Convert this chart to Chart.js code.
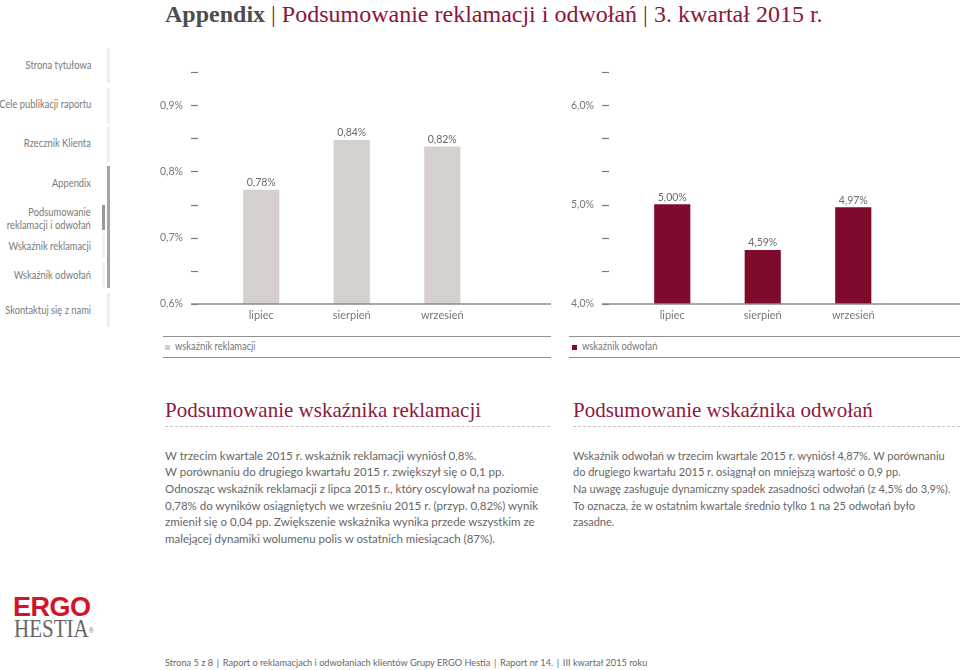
<!DOCTYPE html>
<html lang="pl">
<head>
<meta charset="utf-8">
<script src="https://cdn.jsdelivr.net/npm/chart.js@4/dist/chart.umd.min.js"></script>
<style>
  html,body{margin:0;padding:0;background:#fff;}
  body{width:960px;height:670px;position:relative;overflow:hidden;font-family:Lato,"Open Sans",sans-serif;}
  .abs{position:absolute;}
  .title{left:165px;top:0px;font-family:"Liberation Serif",serif;font-size:24px;line-height:28px;color:#8b1538;white-space:nowrap;}
  .title b{color:#4d4d4d;}
  .nav{right:869px;text-align:right;font-size:11px;line-height:13px;color:#7a7a7a;white-space:nowrap;transform:scaleX(0.85);transform-origin:100% 0;}
  .vbar{width:3px;}
  .legline{height:0;border-top:1.5px solid #8f8f8f;}
  .legsq{width:5px;height:5px;}
  .legtxt{font-size:10.5px;color:#777;line-height:13px;white-space:nowrap;transform:scaleX(0.89);transform-origin:0 0;}
  .head{font-family:"Liberation Serif",serif;font-size:21px;line-height:24px;color:#8b1a3d;white-space:nowrap;}
  .dash{height:0;border-top:1px dashed #c4c4c4;}
  .body{font-size:11.5px;line-height:16.7px;color:#666;white-space:nowrap;}
  .footer{left:165px;top:655px;font-size:10px;line-height:14px;color:#666;white-space:nowrap;transform:scaleX(0.92);transform-origin:0 0;}
  .footer span{margin:0 4px;}
  canvas{position:absolute;}
</style>
</head>
<body>
<div class="abs title"><b>Appendix</b> | Podsumowanie reklamacji i odwołań | 3. kwartał 2015 r.</div>

<!-- navigation -->
<div class="abs nav" style="top:58px">Strona tytułowa</div>
<div class="abs nav" style="top:97px">Cele publikacji raportu</div>
<div class="abs nav" style="top:136px">Rzecznik Klienta</div>
<div class="abs nav" style="top:176px">Appendix</div>
<div class="abs nav" style="top:205px">Podsumowanie<br>reklamacji i odwołań</div>
<div class="abs nav" style="top:239px">Wskaźnik reklamacji</div>
<div class="abs nav" style="top:268px">Wskaźnik odwołań</div>
<div class="abs nav" style="top:303px">Skontaktuj się z nami</div>

<div class="abs vbar" style="left:107px;top:48px;height:35px;background:#eeeeee"></div>
<div class="abs vbar" style="left:107px;top:88px;height:35px;background:#eeeeee"></div>
<div class="abs vbar" style="left:107px;top:127px;height:35px;background:#eeeeee"></div>
<div class="abs vbar" style="left:107px;top:166px;height:122px;background:#a8a4a2"></div>
<div class="abs vbar" style="left:102px;top:205px;height:25px;background:#9a9694"></div>
<div class="abs vbar" style="left:102px;top:233px;height:25px;background:#f1f1f1"></div>
<div class="abs vbar" style="left:102px;top:262px;height:25px;background:#f1f1f1"></div>
<div class="abs vbar" style="left:107px;top:293px;height:34px;background:#eeeeee"></div>

<canvas id="c1" width="411" height="270" style="left:140px;top:60px"></canvas>
<canvas id="c2" width="409" height="270" style="left:551px;top:60px"></canvas>

<!-- legends -->
<div class="abs legline" style="left:163px;top:336px;width:388px"></div>
<div class="abs legline" style="left:163px;top:357px;width:388px"></div>
<div class="abs legsq" style="left:165px;top:344.5px;background:#d5d0cd"></div>
<div class="abs legtxt" style="left:175px;top:340px">wskaźnik reklamacji</div>
<div class="abs legline" style="left:569px;top:336px;width:391px"></div>
<div class="abs legline" style="left:569px;top:357px;width:391px"></div>
<div class="abs legsq" style="left:572px;top:344.5px;background:#7f0a2c"></div>
<div class="abs legtxt" style="left:582px;top:340px">wskaźnik odwołań</div>

<!-- summaries -->
<div class="abs head" style="left:165px;top:398px">Podsumowanie wskaźnika reklamacji</div>
<div class="abs dash" style="left:165px;top:426px;width:385px"></div>
<div class="abs body" style="left:165px;top:447.6px">W trzecim kwartale 2015 r. wskaźnik reklamacji wyniósł 0,8%.<br>W porównaniu do drugiego kwartału 2015 r. zwiększył się o 0,1 pp.<br>Odnosząc wskaźnik reklamacji z lipca 2015 r., który oscylował na poziomie<br>0,78% do wyników osiągniętych we wrześniu 2015 r. (przyp. 0,82%) wynik<br>zmienił się o 0,04 pp. Zwiększenie wskaźnika wynika przede wszystkim ze<br>malejącej dynamiki wolumenu polis w ostatnich miesiącach (87%).</div>

<div class="abs head" style="left:573px;top:398px">Podsumowanie wskaźnika odwołań</div>
<div class="abs dash" style="left:573px;top:426px;width:387px"></div>
<div class="abs body" style="left:573px;top:447.6px;font-size:11px;">Wskaźnik odwołań w trzecim kwartale 2015 r. wyniósł 4,87%. W porównaniu<br>do drugiego kwartału 2015 r. osiągnął on mniejszą wartość o 0,9 pp.<br>Na uwagę zasługuje dynamiczny spadek zasadności odwołań (z 4,5% do 3,9%).<br>To oznacza, że w ostatnim kwartale średnio tylko 1 na 25 odwołań było<br>zasadne.</div>

<!-- logo -->
<div class="abs" style="left:13px;top:593.5px;font-family:'Liberation Sans',Arial,sans-serif;font-weight:bold;font-size:27px;line-height:27px;color:#d2132b;letter-spacing:-0.5px;">ERGO</div>
<div class="abs" style="left:14px;top:615.5px;font-family:'Liberation Serif',serif;font-size:25px;line-height:25px;color:#6a6664;transform:scaleX(0.84);transform-origin:0 0;white-space:nowrap;">HESTIA<span style="font-size:8px;vertical-align:top;position:relative;top:2px;">®</span></div>

<div class="abs footer">Strona 5 z 8<span>|</span>Raport o reklamacjach i odwołaniach klientów Grupy ERGO Hestia<span>|</span>Raport nr 14.<span>|</span>III kwartał 2015 roku</div>

<script>
// ---- data ----
const months = ['lipiec', 'sierpień', 'wrzesień'];
// bar heights as drawn in the reference
const reklamacjeValues = [0.772, 0.847, 0.837];
const reklamacjeLabels = ['0,78%', '0,84%', '0,82%'];
const odwolaniaValues = [5.00, 4.54, 4.97];
const odwolaniaLabels = ['5,00%', '4,59%', '4,97%'];
// axis ticks
const leftTickValues = [0.6, 0.65, 0.7, 0.75, 0.8, 0.85, 0.9, 0.95];
const leftTickLabels = ['0,6%', '', '0,7%', '', '0,8%', '', '0,9%', ''];
const rightTickValues = [4.0, 13/3, 14/3, 5.0, 16/3, 17/3, 6.0, 19/3];
const rightTickLabels = ['4,0%', '', '', '5,0%', '', '', '6,0%', ''];

Chart.defaults.font.family = 'Lato, "Open Sans", sans-serif';
Chart.defaults.font.size = 11;
Chart.defaults.color = '#777';

const decorPlugin = {
  id: 'decor',
  afterDraw(chart, args, opts) {
    const ctx = chart.ctx;
    const area = chart.chartArea;
    const y = chart.scales.y;
    ctx.save();
    // tick dashes
    ctx.strokeStyle = '#7a7a7a';
    ctx.lineWidth = 1.2;
    y.ticks.forEach(t => {
      const py = Math.round(y.getPixelForValue(t.value)) + 0.5;
      ctx.beginPath();
      ctx.moveTo(area.left - 25, py);
      ctx.lineTo(area.left - 18, py);
      ctx.stroke();
    });
    // baseline
    const by = y.getPixelForValue(y.min);
    ctx.strokeStyle = '#8a8a8a';
    ctx.lineWidth = 1.5;
    ctx.beginPath();
    ctx.moveTo(area.left - 25, by);
    ctx.lineTo(chart.width, by);
    ctx.stroke();
    // value labels
    ctx.fillStyle = '#6a6a6a';
    ctx.font = '10.5px Lato, "Open Sans", sans-serif';
    ctx.textAlign = 'center';
    ctx.textBaseline = 'bottom';
    const meta = chart.getDatasetMeta(0);
    meta.data.forEach((bar, i) => {
      ctx.fillText(opts.labels[i], bar.x, bar.y - 2);
    });
    ctx.restore();
  }
};

function makeChart(id, values, labels, color, tickValues, tickLabels, min, max, padRight) {
  return new Chart(document.getElementById(id), {
    type: 'bar',
    data: {
      labels: months,
      datasets: [{
        data: values,
        backgroundColor: color,
        borderWidth: 0,
        barThickness: 35.5
      }]
    },
    options: {
      responsive: false,
      animation: false,
      events: [],
      layout: { padding: { left: 0, right: padRight, top: 12, bottom: 0 } },
      plugins: {
        legend: { display: false },
        tooltip: { enabled: false },
        decor: { labels: labels }
      },
      scales: {
        x: {
          grid: { display: false, drawTicks: false },
          border: { display: false },
          ticks: { padding: 5, color: '#777', font: { size: 11 } },
          afterFit(s) { s.height = 26; }
        },
        y: {
          min: min,
          max: max,
          grid: { display: true, drawOnChartArea: false, drawTicks: true, tickLength: 33, color: 'rgba(0,0,0,0)' },
          border: { display: false },
          afterBuildTicks(s) { s.ticks = tickValues.map(v => ({ value: v })); },
          ticks: {
            padding: 0,
            color: '#777',
            font: { size: 10.5 },
            autoSkip: false,
            callback: (v, i) => tickLabels[i]
          },
          afterFit(s) { s.width = 76; }
        }
      }
    },
    plugins: [decorPlugin]
  });
}

makeChart('c1', reklamacjeValues, reklamacjeLabels, '#d5d0cd', leftTickValues, leftTickLabels, 0.6, 0.95, 63.5);
makeChart('c2', odwolaniaValues, odwolaniaLabels, '#7f0a2c', rightTickValues, rightTickLabels, 4.0, 19/3, 61.5);
</script>
</body>
</html>
